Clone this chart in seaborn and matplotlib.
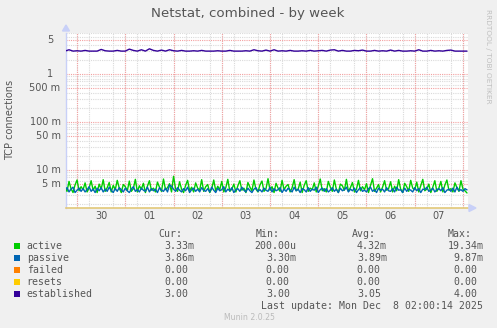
import numpy as np
import pandas as pd
import matplotlib
matplotlib.use("Agg")
import matplotlib.pyplot as plt
import seaborn as sns
from matplotlib.patches import Rectangle, Polygon
from matplotlib.ticker import NullFormatter
import matplotlib.transforms as mtransforms

# ---------------- data ----------------
start = "2025-11-29 18:00"
active_m = [4.4, 3.6, 5.8, 4.1, 3.4, 4.9, 6.2, 3.7, 4.5, 3.9,
            5.4, 3.5, 4.2, 6.0, 3.8, 4.6, 3.4, 5.1, 4.0, 6.3,
            3.6, 4.3, 5.5, 3.5, 4.8, 3.9, 6.1, 4.2, 3.4, 5.0,
            4.5, 3.7, 5.9, 3.6, 4.1, 6.4, 3.5, 4.7, 4.0, 5.3,
            3.4, 4.6, 6.0, 3.8, 4.2, 3.5, 5.6, 4.4, 3.6, 6.5,
            3.9, 4.3, 5.2, 3.5, 7.4, 4.1, 3.6, 5.7, 4.0, 3.4,
            4.8, 6.1, 3.7, 4.4, 3.5, 5.4, 4.2, 3.8, 6.3, 3.6,
            4.5, 5.0, 3.4, 4.1, 6.2, 3.7, 4.6, 3.9, 5.8, 3.5,
            4.3, 6.4, 3.6, 4.0, 5.1, 3.5, 4.7, 6.0, 3.8, 4.2,
            3.4, 5.5, 4.4, 3.7, 6.2, 4.0, 3.5, 4.9, 5.9, 3.6,
            4.1, 6.6, 3.8, 4.5, 3.4, 5.3, 4.2, 3.6, 6.1, 3.9,
            4.6, 5.0, 3.5, 4.3, 6.3, 3.7, 4.0, 5.6, 3.4, 4.8,
            6.0, 3.6, 4.2, 3.9, 5.4, 3.5, 4.6, 6.5, 3.7, 4.1,
            3.5, 5.8, 4.4, 3.6, 6.2, 4.0, 3.4, 5.1, 4.7, 3.8,
            6.4, 3.6, 4.3, 5.5, 3.5, 4.0, 6.1, 3.7, 4.5, 3.9,
            5.2, 3.4, 4.8, 6.6, 3.6, 4.2, 5.0, 3.5, 4.4, 6.0,
            3.8, 4.1, 5.7, 3.5, 4.6, 3.7, 6.3, 4.0, 3.4, 5.3,
            4.5, 3.6, 6.1, 4.2, 3.9, 5.6, 3.5, 4.7, 6.4, 3.7,
            4.0, 5.1, 3.4, 4.4, 6.0, 3.6, 4.2, 5.8, 3.5, 4.9,
            6.2, 3.8, 4.1, 3.5, 5.4, 4.3, 3.6, 6.0, 4.0, 3.7,
            3.33]
passive_m = [3.9, 4.3, 3.5, 4.0, 4.4, 3.4, 3.8, 4.2, 3.6, 4.1,
             3.5, 3.9, 4.5, 3.6, 4.0, 3.4, 4.2, 3.7, 4.3, 3.5,
             4.0, 3.6, 4.4, 3.8, 3.4, 4.1, 3.6, 4.3, 3.9, 3.5,
             4.2, 3.7, 3.4, 4.0, 4.5, 3.6, 3.9, 3.5, 4.2, 3.8,
             3.6, 4.4, 3.5, 4.1, 3.7, 4.0, 3.4, 4.3, 3.8, 3.6,
             4.2, 3.5, 4.9, 4.6, 4.0, 3.6, 4.3, 3.8, 3.5, 4.1,
             3.7, 4.4, 3.4, 3.9, 4.2, 3.6, 4.0, 3.5, 4.3, 3.8,
             3.6, 4.1, 3.5, 4.4, 3.8, 3.4, 4.2, 3.7, 3.9, 4.5,
             3.5, 4.0, 3.7, 4.3, 3.4, 3.9, 4.1, 3.6, 4.4, 3.8,
             3.5, 4.2, 3.7, 3.4, 4.0, 4.3, 3.6, 3.9, 3.5, 4.2,
             3.8, 3.6, 4.4, 3.5, 4.1, 3.7, 3.9, 4.3, 3.4, 4.0,
             3.6, 4.2, 3.8, 3.5, 4.4, 3.7, 4.0, 3.4, 4.1, 3.9,
             3.5, 4.3, 3.6, 4.0, 3.8, 4.4, 3.4, 3.9, 4.2, 3.6,
             4.1, 3.5, 3.8, 4.3, 3.6, 4.0, 3.4, 4.2, 3.7, 3.9,
             4.4, 3.5, 4.0, 3.7, 4.2, 3.4, 3.9, 4.3, 3.6, 3.8,
             3.5, 4.1, 4.4, 3.6, 3.9, 3.4, 4.2, 3.8, 4.0, 3.5,
             4.3, 3.7, 3.6, 4.1, 3.5, 4.4, 3.8, 3.9, 3.4, 4.2,
             3.6, 4.0, 3.8, 3.5, 4.3, 3.7, 4.1, 3.4, 4.0, 3.9,
             4.4, 3.6, 3.8, 4.2, 3.5, 3.9, 4.1, 3.7, 4.3, 3.4,
             3.8, 4.0, 3.6, 4.2, 3.5, 4.4, 3.7, 3.9, 3.6, 4.1,
             3.86]
established = [3.0, 3.2, 3.0, 3.05, 3.0, 3.1, 3.0, 3.0, 3.0, 3.25,
               3.05, 3.0, 3.0, 3.1, 3.0, 3.0, 3.3, 3.1, 3.0, 3.2,
               3.0, 3.35, 3.1, 3.0, 3.15, 3.0, 3.2, 3.05, 3.0, 3.1,
               3.0, 3.0, 3.05, 3.0, 3.1, 3.0, 3.0, 3.0, 3.05, 3.0,
               3.0, 3.1, 3.0, 3.0, 3.0, 3.05, 3.0, 3.2, 3.05, 3.0,
               3.15, 3.0, 3.2, 3.0, 3.05, 3.0, 3.1, 3.0, 3.0, 3.05,
               3.0, 3.1, 3.0, 3.05, 3.1, 3.0, 3.15, 3.2, 3.0, 3.1,
               3.0, 3.0, 3.1, 3.05, 3.15, 3.0, 3.0, 3.1, 3.0, 3.05,
               3.0, 3.15, 3.0, 3.1, 3.0, 3.0, 3.05, 3.0, 3.2, 3.0,
               3.0, 3.1, 3.0, 3.05, 3.0, 3.1, 3.15, 3.0, 3.0, 3.0,
               3.0]

series_names = ["active", "passive", "failed", "resets", "established"]
series_colors = ["#00CC00", "#0066B3", "#FF8000", "#FFCC00", "#330099"]
cur_vals = ["3.33m", "3.86m", "0.00", "0.00", "3.00"]
min_vals = ["200.00u", "3.30m", "0.00", "0.00", "3.00"]
avg_vals = ["4.32m", "3.89m", "0.00", "0.00", "3.05"]
max_vals = ["19.34m", "9.87m", "0.00", "0.00", "4.00"]
day_labels = ["30", "01", "02", "03", "04", "05", "06", "07"]
ytick_vals = [5, 1, 0.5, 0.1, 0.05, 0.01, 0.005]
ytick_labels = ["5", "1", "500 m", "100 m", "50 m", "10 m", "5 m"]

t_fast = pd.date_range(start, periods=len(active_m), freq="1h")
t_slow = pd.date_range(start, periods=len(established), freq="2h")
df = pd.concat([
    pd.DataFrame({"time": t_fast, "value": np.array(active_m) / 1000.0, "series": "active"}),
    pd.DataFrame({"time": t_fast, "value": np.array(passive_m) / 1000.0, "series": "passive"}),
    pd.DataFrame({"time": t_slow, "value": np.array(established), "series": "established"}),
], ignore_index=True)

# ---------------- figure ----------------
W, H = 497, 328
DPI = 100
sns.set_theme(style="white")
plt.rcParams["font.family"] = ["DejaVu Sans"]
fig = plt.figure(figsize=(W / DPI, H / DPI), dpi=DPI, facecolor="#F0F0F0")

def fx(px):
    return px / W

def fy(py):
    return 1 - py / H

L, T, R, B = 66, 33, 468, 208
ax = fig.add_axes([fx(L), fy(B), fx(R - L), (B - T) / H])
ax.set_facecolor("white")

palette = {n: c for n, c in zip(series_names, series_colors)}
sns.lineplot(data=df, x="time", y="value", hue="series", palette=palette,
             hue_order=["active", "passive", "established"],
             linewidth=1.0, legend=False, ax=ax, zorder=4)

ax.set_yscale("log")

grid_red = "#F3A0A0"
grid_gray = "#DADADA"

# minor grids (gray)
minor_x = pd.date_range("2025-11-29 18:00", "2025-12-08 06:00", freq="6h")
ax.set_xticks(minor_x, minor=True)
ylocs_minor = []
for e in range(-3, 1):
    for m in range(1, 10):
        ylocs_minor.append(m * 10.0 ** e)
ax.set_yticks(ylocs_minor, minor=True)
ax.yaxis.set_minor_formatter(NullFormatter())
ax.xaxis.set_minor_formatter(NullFormatter())
ax.grid(True, which="minor", color=grid_gray, linestyle=(0, (1, 1)), linewidth=0.8, zorder=1)
ax.grid(False, which="major")

# major grids (red)
midnights = pd.date_range("2025-11-30", "2025-12-08", freq="1D")
for d in midnights:
    ax.axvline(d, color=grid_red, linestyle=(0, (1, 1)), linewidth=0.8, zorder=2)
for v in ytick_vals:
    ax.axhline(v, color=grid_red, linestyle=(0, (1, 1)), linewidth=0.8, zorder=2)

# tick labels
noons = pd.date_range("2025-11-30 12:00", periods=len(day_labels), freq="1D")
ax.set_xticks(noons)
ax.set_xticklabels(day_labels)
ax.set_yticks(ytick_vals)
ax.set_yticklabels([])
ax.tick_params(axis="both", which="major", length=0, labelsize=7, colors="#555555", pad=2)
ax.tick_params(axis="both", which="minor", length=0)
ax.set_xlabel("")
ax.set_ylabel("")

# limits last (set_ticks may expand them)
ax.set_ylim(1.62e-3, 7.15)
ax.set_xlim(pd.Timestamp("2025-11-29 18:30"), pd.Timestamp("2025-12-08 02:30"))

# y tick labels, right-aligned with room for a unit character
ytr = mtransforms.blended_transform_factory(fig.transFigure, ax.transData)
for v, lab in zip(ytick_vals, ytick_labels):
    end_px = 60.5 if lab.endswith("m") else 53.5
    ax.text(fx(end_px), v, lab, transform=ytr, ha="right", va="center",
            fontsize=7, color="#555555")

for s in ["top", "right"]:
    ax.spines[s].set_visible(False)
ax.spines["left"].set_color("#C8D0F8")
ax.spines["left"].set_linewidth(1.0)
ax.spines["bottom"].set_color("#E2C878")
ax.spines["bottom"].set_linewidth(1.2)

# arrows
fig.add_artist(Polygon([[fx(62.5), fy(31)], [fx(69.5), fy(31)], [fx(66), fy(25)]],
                       closed=True, transform=fig.transFigure, color="#C8D0F8"))
fig.add_artist(Polygon([[fx(469), fy(204.5)], [fx(469), fy(211.5)], [fx(476), fy(208)]],
                       closed=True, transform=fig.transFigure, color="#C8D0F8"))

# title & labels
fig.text(fx(248), fy(13), "Netstat, combined - by week", ha="center", va="center",
         fontsize=9.6, color="#555555")
fig.text(fx(10), fy(120), "TCP connections", rotation=90, ha="center", va="center",
         fontsize=7, color="#555555")
fig.text(fx(488), fy(56), "RRDTOOL / TOBI OETIKER", rotation=270, ha="center", va="center",
         fontsize=5.3, color="#C0C0C0")

# legend block
mono = "DejaVu Sans Mono"
fs = 7.1
tc = "#555555"
cw = 5.98
hdr_y = 234
fig.text(fx(158.7), fy(hdr_y), "Cur:", family=mono, fontsize=fs, color=tc, va="center")
fig.text(fx(255.7), fy(hdr_y), "Min:", family=mono, fontsize=fs, color=tc, va="center")
fig.text(fx(352), fy(hdr_y), "Avg:", family=mono, fontsize=fs, color=tc, va="center")
fig.text(fx(447.7), fy(hdr_y), "Max:", family=mono, fontsize=fs, color=tc, va="center")

col_ends = [194.3, 295.7, 386.7, 483.3]

def place(val, end_px, y):
    n = len(val) if val[-1].isalpha() else len(val) + 1
    fig.text(fx(end_px - n * cw), fy(y), val, family=mono, fontsize=fs, color=tc, va="center")

for i, name in enumerate(series_names):
    y = 245.7 + 12 * i
    fig.add_artist(Rectangle((fx(14), fy(y + 3)), 6 / W, 6 / H, transform=fig.transFigure,
                             facecolor=series_colors[i], edgecolor="none"))
    fig.text(fx(26.7), fy(y), name, family=mono, fontsize=fs, color=tc, va="center")
    place(cur_vals[i], col_ends[0], y)
    place(min_vals[i], col_ends[1], y)
    place(avg_vals[i], col_ends[2], y)
    place(max_vals[i], col_ends[3], y)

fig.text(fx(483.3), fy(305.7), "Last update: Mon Dec  8 02:00:14 2025", family=mono,
         fontsize=fs, color=tc, va="center", ha="right")
fig.text(fx(249), fy(317), "Munin 2.0.25", fontsize=5.6, color="#BBBBBB", ha="center", va="center")

fig.savefig("out.png", dpi=DPI, facecolor=fig.get_facecolor())
